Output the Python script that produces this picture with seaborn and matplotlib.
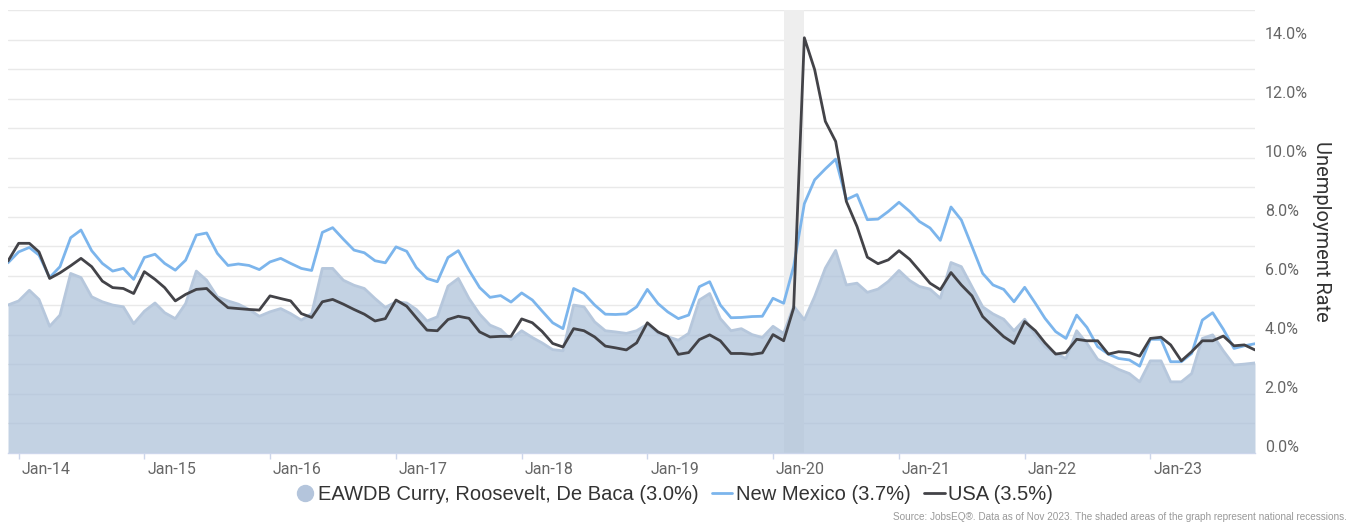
import numpy as np
import pandas as pd
import matplotlib
matplotlib.use("Agg")
import matplotlib.pyplot as plt
import matplotlib.transforms as mtransforms
from matplotlib.lines import Line2D
from matplotlib.ticker import MultipleLocator, FixedLocator
import seaborn as sns

# ---------------- data ----------------
months = pd.date_range("2013-12-01", periods=120, freq="MS")

county = [5.01, 5.15, 5.51, 5.20, 4.29, 4.67, 6.08, 5.94, 5.29, 5.12,
          5.01, 4.95, 4.38, 4.80, 5.08, 4.75, 4.55, 5.06, 6.16, 5.85,
          5.29, 5.15, 5.04, 4.86, 4.63, 4.78, 4.89, 4.72, 4.50, 4.72,
          6.25, 6.25, 5.85, 5.68, 5.57, 5.23, 4.93, 5.12, 5.08, 4.86,
          4.47, 4.61, 5.65, 5.91, 5.23, 4.70, 4.33, 4.18, 3.84, 4.14,
          3.91, 3.73, 3.50, 3.46, 5.01, 4.95, 4.44, 4.14, 4.10, 4.05,
          4.14, 4.36, 4.05, 3.94, 3.82, 4.05, 5.18, 5.40, 4.55, 4.14,
          4.21, 4.01, 3.91, 4.29, 4.05, 4.97, 4.51, 5.30, 6.26, 6.86,
          5.69, 5.75, 5.44, 5.55, 5.81, 6.18, 5.84, 5.64, 5.55, 5.24,
          6.45, 6.31, 5.63, 4.95, 4.71, 4.53, 4.14, 4.53, 4.00, 3.60,
          3.37, 3.20, 4.14, 3.71, 3.17, 3.01, 2.83, 2.69, 2.41, 3.12,
          3.12, 2.41, 2.41, 2.69, 3.88, 4.00, 3.46, 2.98, 3.01, 3.05]

new_mexico = [6.44, 6.81, 6.96, 6.70, 5.94, 6.31, 7.29, 7.55, 6.85, 6.42,
              6.16, 6.25, 5.88, 6.62, 6.73, 6.42, 6.19, 6.53, 7.38, 7.45,
              6.76, 6.35, 6.40, 6.35, 6.21, 6.47, 6.59, 6.42, 6.25, 6.18,
              7.47, 7.63, 7.24, 6.87, 6.78, 6.51, 6.44, 6.98, 6.83, 6.28,
              5.91, 5.80, 6.62, 6.85, 6.19, 5.60, 5.27, 5.33, 5.11, 5.42,
              5.18, 4.81, 4.41, 4.21, 5.57, 5.40, 5.01, 4.70, 4.69, 4.71,
              4.95, 5.54, 5.06, 4.78, 4.55, 4.67, 5.63, 5.80, 5.01, 4.58,
              4.59, 4.62, 4.63, 5.24, 5.07, 6.32, 8.44, 9.25, 9.62, 9.95,
              8.58, 8.75, 7.90, 7.92, 8.18, 8.49, 8.18, 7.84, 7.62, 7.20,
              8.33, 7.89, 6.99, 6.08, 5.69, 5.54, 5.12, 5.61, 5.07, 4.56,
              4.11, 3.88, 4.67, 4.25, 3.60, 3.35, 3.20, 3.15, 2.94, 3.85,
              3.85, 3.09, 3.09, 3.37, 4.50, 4.75, 4.19, 3.54, 3.63, 3.70]

usa = [6.50, 7.10, 7.10, 6.81, 5.91, 6.10, 6.34, 6.59, 6.31, 5.82,
       5.60, 5.57, 5.40, 6.14, 5.88, 5.60, 5.15, 5.37, 5.54, 5.57,
       5.22, 4.92, 4.89, 4.86, 4.84, 5.32, 5.23, 5.15, 4.72, 4.59,
       5.12, 5.20, 5.04, 4.86, 4.70, 4.47, 4.55, 5.18, 4.97, 4.58,
       4.16, 4.14, 4.52, 4.63, 4.56, 4.10, 3.93, 3.95, 3.95, 4.54,
       4.41, 4.12, 3.71, 3.59, 4.21, 4.14, 3.93, 3.62, 3.56, 3.49,
       3.73, 4.41, 4.10, 3.95, 3.34, 3.40, 3.84, 4.00, 3.80, 3.37,
       3.37, 3.34, 3.39, 4.01, 3.80, 4.91, 14.06, 12.98, 11.23, 10.55,
       8.52, 7.67, 6.63, 6.41, 6.54, 6.85, 6.56, 6.18, 5.75, 5.53,
       6.11, 5.69, 5.32, 4.62, 4.28, 3.94, 3.71, 4.45, 4.14, 3.73,
       3.35, 3.40, 3.85, 3.80, 3.80, 3.35, 3.43, 3.40, 3.28, 3.88,
       3.92, 3.66, 3.12, 3.43, 3.80, 3.80, 3.96, 3.63, 3.66, 3.49]

recession = ["2020-02-01", "2020-04-01"]
tick_years = list(range(2014, 2024))
x_tick_labels = [f"Jan-{str(y)[2:]}" for y in tick_years]
y_tick_values = [0, 2, 4, 6, 8, 10, 12, 14]
y_tick_labels = [f"{v:.1f}%" for v in y_tick_values]
series_labels = ["EAWDB Curry, Roosevelt, De Baca (3.0%)",
                 "New Mexico (3.7%)", "USA (3.5%)"]
y_title = "Unemployment Rate"
source_text = ("Source: JobsEQ\u00ae. Data as of Nov 2023. "
               "The shaded areas of the graph represent national recessions.")

df = pd.DataFrame({"month": months, "county": county,
                   "nm": new_mexico, "usa": usa})

# ---------------- style ----------------
sns.set_theme(style="white")
plt.rcParams["font.family"] = ["Roboto", "DejaVu Sans"]

W, H = 1355, 525
fig = plt.figure(figsize=(W / 100, H / 100), dpi=100)
ax = fig.add_axes([8 / W, 72 / H, 1247 / W, 443 / H])

area_fill = "#aabfd8"
area_edge = "#b6c7dc"
nm_color = "#7cb5ec"
usa_color = "#434348"

# recession shading
ax.axvspan(pd.Timestamp(recession[0]), pd.Timestamp(recession[1]),
           color="#eeeeee", zorder=0.6, lw=0)

# area
ax.fill_between(df["month"], df["county"], 0, color=area_fill, alpha=0.7,
                lw=0, zorder=1)
sns.lineplot(data=df, x="month", y="county", color=area_edge, lw=2,
             ax=ax, zorder=2)
sns.lineplot(data=df, x="month", y="nm", color=nm_color, lw=2,
             ax=ax, zorder=3)
sns.lineplot(data=df, x="month", y="usa", color=usa_color, lw=2,
             ax=ax, zorder=4)

ax.set_xlim(months[0], months[-1])
ax.set_ylim(0, 15)

# grid
ax.yaxis.set_major_locator(FixedLocator(y_tick_values))
ax.yaxis.set_minor_locator(MultipleLocator(1))
ax.grid(False)
for v in range(0, 16):
    ax.axhline(v, color="#e9e9e9", lw=1, zorder=0.5)

# spines
for s in ["left", "right", "top"]:
    ax.spines[s].set_visible(False)
ax.spines["bottom"].set_color("#ccd6eb")
ax.spines["bottom"].set_linewidth(1)
ax.spines["bottom"].set_zorder(5)

# x ticks
ax.set_xticks([pd.Timestamp(f"{y}-01-01") for y in tick_years])
ax.set_xticklabels(x_tick_labels)
ax.tick_params(axis="x", which="major", length=4.5, width=1, color="#ccd6eb",
               labelsize=11.5, labelcolor="#666666", pad=2, direction="out",
               bottom=True)
off_x = mtransforms.ScaledTranslation(3 / 100, 0, fig.dpi_scale_trans)
for lab in ax.get_xticklabels():
    lab.set_horizontalalignment("left")
    lab.set_transform(lab.get_transform() + off_x)

# y ticks on right
ax.yaxis.tick_right()
ax.set_yticklabels(y_tick_labels)
ax.tick_params(axis="y", which="both", length=0, labelsize=11.5,
               labelcolor="#666666", pad=7)
off_y = mtransforms.ScaledTranslation(0, 7 / 100, fig.dpi_scale_trans)
for lab in ax.get_yticklabels():
    lab.set_horizontalalignment("left")
    lab.set_transform(lab.get_transform() + off_y)

ax.set_xlabel("")
ax.set_ylabel("")

fig.text(1322 / W, 1 - 231 / H, y_title, rotation=270, ha="center",
         va="center", fontsize=14.5, color="#333333")

# legend
handles = [
    Line2D([], [], marker="o", ls="", ms=11.5, mfc="#b4c5dc", mec="#b4c5dc"),
    Line2D([], [], color=nm_color, lw=2),
    Line2D([], [], color=usa_color, lw=2),
]
fig.legend(handles, series_labels, loc="center",
           bbox_to_anchor=(0.497, 1 - 495 / H), ncol=3, frameon=False,
           prop={"family": ["Liberation Sans", "DejaVu Sans"], "size": 14.5},
           handlelength=1.0, handletextpad=0.15,
           columnspacing=0.7, labelcolor="#333333")

fig.text(1347 / W, 1 - 517 / H, source_text, ha="right", va="center",
         fontsize=7.2, color="#999999",
         family=["Liberation Sans", "DejaVu Sans"])

fig.savefig("out.png", dpi=100)
